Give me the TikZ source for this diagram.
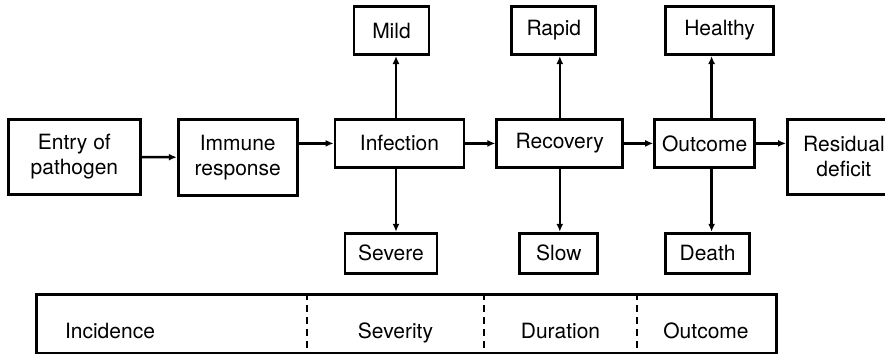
\documentclass[tikz,border=0pt]{standalone}
\usepackage{fontspec}
\setmainfont{TeX Gyre Heros}
\usetikzlibrary{positioning,arrows.meta}
\tikzset{
  stage/.style={rectangle, draw, line width=1.4pt, inner sep=0pt, align=center, font=\fontsize{10.5}{12.5}\selectfont},
  branch/.style={stage},
  fwd/.style={-{Latex[length=4pt,width=3.5pt]}, line width=1.3pt},
  divider/.style={dash pattern=on 3.5pt off 2.5pt, line width=1.2pt},
  phase/.style={anchor=base, font=\fontsize{10.5}{12.5}\selectfont},
}
\begin{document}
\begin{tikzpicture}
  \useasboundingbox (0,0) rectangle (442.5pt,-177pt);
  % main chain
  \node[stage, minimum width=66pt, minimum height=37.5pt, anchor=north west] (entry) at (3.5pt,-59pt) {Entry of\\pathogen};
  \node[stage, minimum width=59.5pt, minimum height=38pt, right=17.5pt of entry.north east, anchor=north west] (immune) {Immune\\response};
  \node[stage, minimum width=64.5pt, minimum height=24pt, right=17.5pt of immune.north east, anchor=north west] (infection) {Infection};
  \node[stage, minimum width=63pt, minimum height=24pt, right=15pt of infection.north east, anchor=north west] (recovery) {Recovery};
  \node[stage, minimum width=50pt, minimum height=24pt, right=14.5pt of recovery.north east, anchor=north west] (outcome) {Outcome};
  \node[stage, minimum width=56.5pt, minimum height=37.5pt, right=15pt of outcome.north east, anchor=north west] (residual) {Residual\\deficit};

  % branches
  \node[branch, minimum width=37.5pt, minimum height=24pt, above=31pt of infection, xshift=-4pt] (mild) {Mild};
  \node[branch, minimum width=46pt, minimum height=20pt, below=31.5pt of infection, xshift=-4.25pt] (severe) {Severe};
  \node[branch, minimum width=42pt, minimum height=24pt, above=31pt of recovery, xshift=-3pt] (rapid) {Rapid};
  \node[branch, minimum width=39pt, minimum height=20pt, below=31.5pt of recovery, xshift=-0.5pt] (slow) {Slow};
  \node[branch, minimum width=54pt, minimum height=24pt, above=31pt of outcome, xshift=7.5pt] (healthy) {Healthy};
  \node[branch, minimum width=42pt, minimum height=20pt, below=31.5pt of outcome, xshift=1.5pt] (death) {Death};

  \draw[fwd] (entry) -- (immune);
  \draw[fwd] (immune.east |- infection) -- (infection);
  \draw[fwd] (infection) -- (recovery);
  \draw[fwd] (recovery) -- (outcome);
  \draw[fwd] (outcome) -- (residual.west |- outcome);

  \draw[fwd] ([xshift=-1.75pt]infection.north) -- ([xshift=-1.75pt]infection.north |- mild.south);
  \draw[fwd] ([xshift=-1.75pt]infection.south) -- ([xshift=-1.75pt]infection.south |- severe.north);
  \draw[fwd] (recovery.north) -- (recovery.north |- rapid.south);
  \draw[fwd] (recovery.south) -- (recovery.south |- slow.north);
  \draw[fwd] ([xshift=3.5pt]outcome.north) -- ([xshift=3.5pt]outcome.north |- healthy.south);
  \draw[fwd] ([xshift=3.5pt]outcome.south) -- ([xshift=3.5pt]outcome.south |- death.north);

  % phase bar
  \node[draw, line width=1.4pt, minimum width=370pt, minimum height=29.5pt, inner sep=0pt, anchor=north west] (phases) at (17.5pt,-146.5pt) {};
  \foreach \dx in {136,224.5,301}
    \draw[divider] ([xshift=\dx pt]phases.north west) -- ([xshift=\dx pt]phases.south west);
  \node[phase, anchor=base west] (incidence) at (29pt,-169pt) {Incidence};
  \node[phase] (severity) at (197.75pt,-169pt) {Severity};
  \node[phase] (duration) at (280.25pt,-169pt) {Duration};
  \node[phase] (result) at (353pt,-169pt) {Outcome};
\end{tikzpicture}
\end{document}
